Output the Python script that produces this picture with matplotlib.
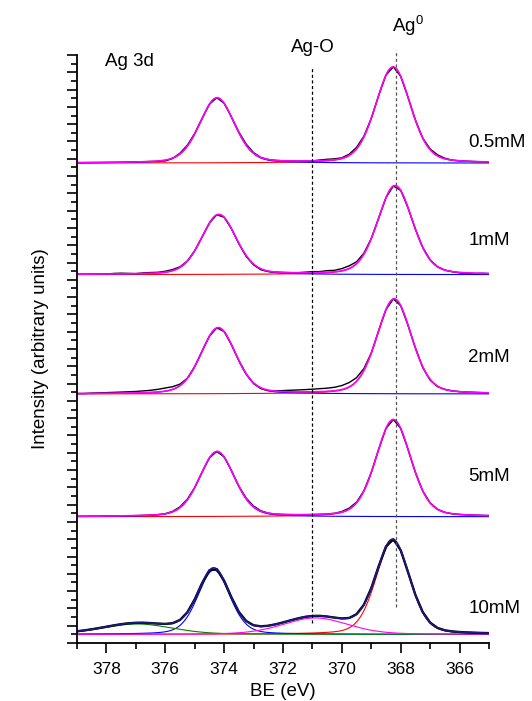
import numpy as np
import matplotlib
matplotlib.use('Agg')
import matplotlib.pyplot as plt
from matplotlib.ticker import MultipleLocator

plt.rcParams['font.family'] = ['Liberation Sans', 'DejaVu Sans']

# Fit results (BE in eV, heights in axis units)
samples = ['0.5mM', '1mM', '2mM', '5mM', '10mM']
offsets = [27.75, 21.3, 14.4, 7.3, 0.5]
label_dy = [1.2, 2.0, 2.1, 2.3, 1.5]

# Ag 3d3/2 (blue) and Ag 3d5/2 (red) components for the top four spectra
c32 = [374.24, 374.18, 374.20, 374.24]
h32 = [3.76, 3.47, 3.82, 3.76]
c52 = [368.26, 368.19, 368.22, 368.25]
h52 = [5.55, 5.14, 5.49, 5.61]
fwhm_main = 1.4

# 10mM fit: centre, height, fwhm, colour
c10 = [368.27, 374.35, 376.95, 370.9]
h10 = [5.4, 3.72, 0.6, 0.95]
w10 = [1.35, 1.28, 2.8, 2.6]
col10 = ['#ff0000', '#0000ff', '#008000', '#ff00ff']

# measured minus fit (axis units): runs of 0.25 eV steps going to lower BE
res = [
    [(376.25, [-0.03, -0.05, -0.02, 0.04, 0.05, 0.02]),
     (373.5, [0.03, 0.05, 0.03]),
     (370.75, [0.04, 0.06, 0.05, 0.03, 0.06, 0.08, 0.04]),
     (367.0, [0.04, 0.06, 0.03])],
    [(377.75, [0.03, 0.04, 0.02, 0.0, 0.03, 0.04, 0.03, 0.05, 0.06, 0.03]),
     (373.5, [-0.03, -0.05, -0.05, -0.06, -0.03]),
     (371.25, [0.03, 0.06, 0.05, 0.09, 0.08, 0.12, 0.15, 0.1, 0.05]),
     (366.0, [-0.03, -0.05, -0.03])],
    [(378.5, [0.02, 0.03, 0.04, 0.05, 0.06, 0.07, 0.08, 0.1, 0.12, 0.15, 0.18, 0.15, 0.08]),
     (373.0, [-0.04, -0.05, -0.03, 0.02, 0.06, 0.09, 0.11, 0.13, 0.15, 0.17, 0.18,
              0.2, 0.23, 0.25, 0.2, 0.1]),
     (367.25, [-0.04, -0.05, -0.03])],
    [(375.75, [0.02, 0.04, 0.03]),
     (373.25, [0.03, 0.04, 0.02]),
     (370.0, [0.03, 0.05, 0.03])],
    [],
]


def pv(x, c, h, w, eta=0.25):
    u = (x - c) / w
    return h * (eta / (1 + 4 * u**2) + (1 - eta) * np.exp(-4 * np.log(2) * u**2))


x = np.linspace(379, 365, 701)
xd = np.arange(379, 364.99, -0.25)

fig = plt.figure(figsize=(5.32, 7.01), dpi=100)
ax = fig.add_axes([77 / 532, 58 / 701, 412 / 532, 588 / 701])

for i, name in enumerate(samples):
    off = offsets[i]
    if i < 4:
        comps = [(c52[i], h52[i], fwhm_main, '#ff0000'),
                 (c32[i], h32[i], fwhm_main, '#0000ff')]
        env_col = '#ff00ff'
    else:
        comps = list(zip(c10, h10, w10, col10))
        env_col = '#1a1a80'
    for c, h, w, col in comps:
        ax.plot(x, off + pv(x, c, h, w), color=col, lw=0.8)
    # raw data = fit + read-off residual
    yd = sum(pv(xd, c, h, w) for c, h, w, _ in comps)
    for start, vals in res[i]:
        k = int(round((379 - start) / 0.25))
        yd[k:k + len(vals)] += np.array(vals)
    ax.plot(xd, off + yd, color='black', lw=1.7 if i == 4 else 1.0)
    env = sum(pv(x, c, h, w) for c, h, w, _ in comps)
    ax.plot(x, off + env, color=env_col, lw=1.2)
    ax.text(365.7, off + label_dy[i], name, fontsize=13.5,
            ha='left', va='center', clip_on=False)

# reference lines
ax.plot([371.0, 371.0], [1.16, 33.3], color='black', lw=0.9, ls=(0, (2.5, 2)))
ax.plot([368.15, 368.15], [2.08, 34.3], color='#555555', lw=0.9, ls=(0, (2.5, 2)),
        clip_on=False)

ax.text(378.05, 33.6, 'Ag 3d', fontsize=13.5, ha='left', va='center')
ax.text(371.0, 34.45, 'Ag-O', fontsize=13.5, ha='center', va='center', clip_on=False)
ax.text(368.3, 35.7, r'Ag$^{\mathregular{0}}$', fontsize=13.5, ha='left', va='center',
        clip_on=False)

ax.set_xlim(379, 365)
ax.set_ylim(0, 34)
ax.spines['top'].set_visible(False)
ax.spines['right'].set_visible(False)
ax.spines['left'].set_linewidth(1.3)
ax.spines['bottom'].set_linewidth(1.3)
ax.xaxis.set_major_locator(MultipleLocator(2))
ax.xaxis.set_minor_locator(MultipleLocator(1))
ax.yaxis.set_major_locator(MultipleLocator(1))
ax.yaxis.set_minor_locator(MultipleLocator(0.5))
ax.tick_params(which='major', length=7, width=1.2, direction='out', labelsize=12.5, pad=7)
ax.tick_params(which='minor', length=4, width=1.2, direction='out')
ax.tick_params(axis='y', labelleft=False)
ax.set_xlabel('BE (eV)', fontsize=13.5, labelpad=4)
ax.set_ylabel('Intensity (arbitrary units)', fontsize=13.5, labelpad=13)

fig.savefig('out.png', dpi=100)
